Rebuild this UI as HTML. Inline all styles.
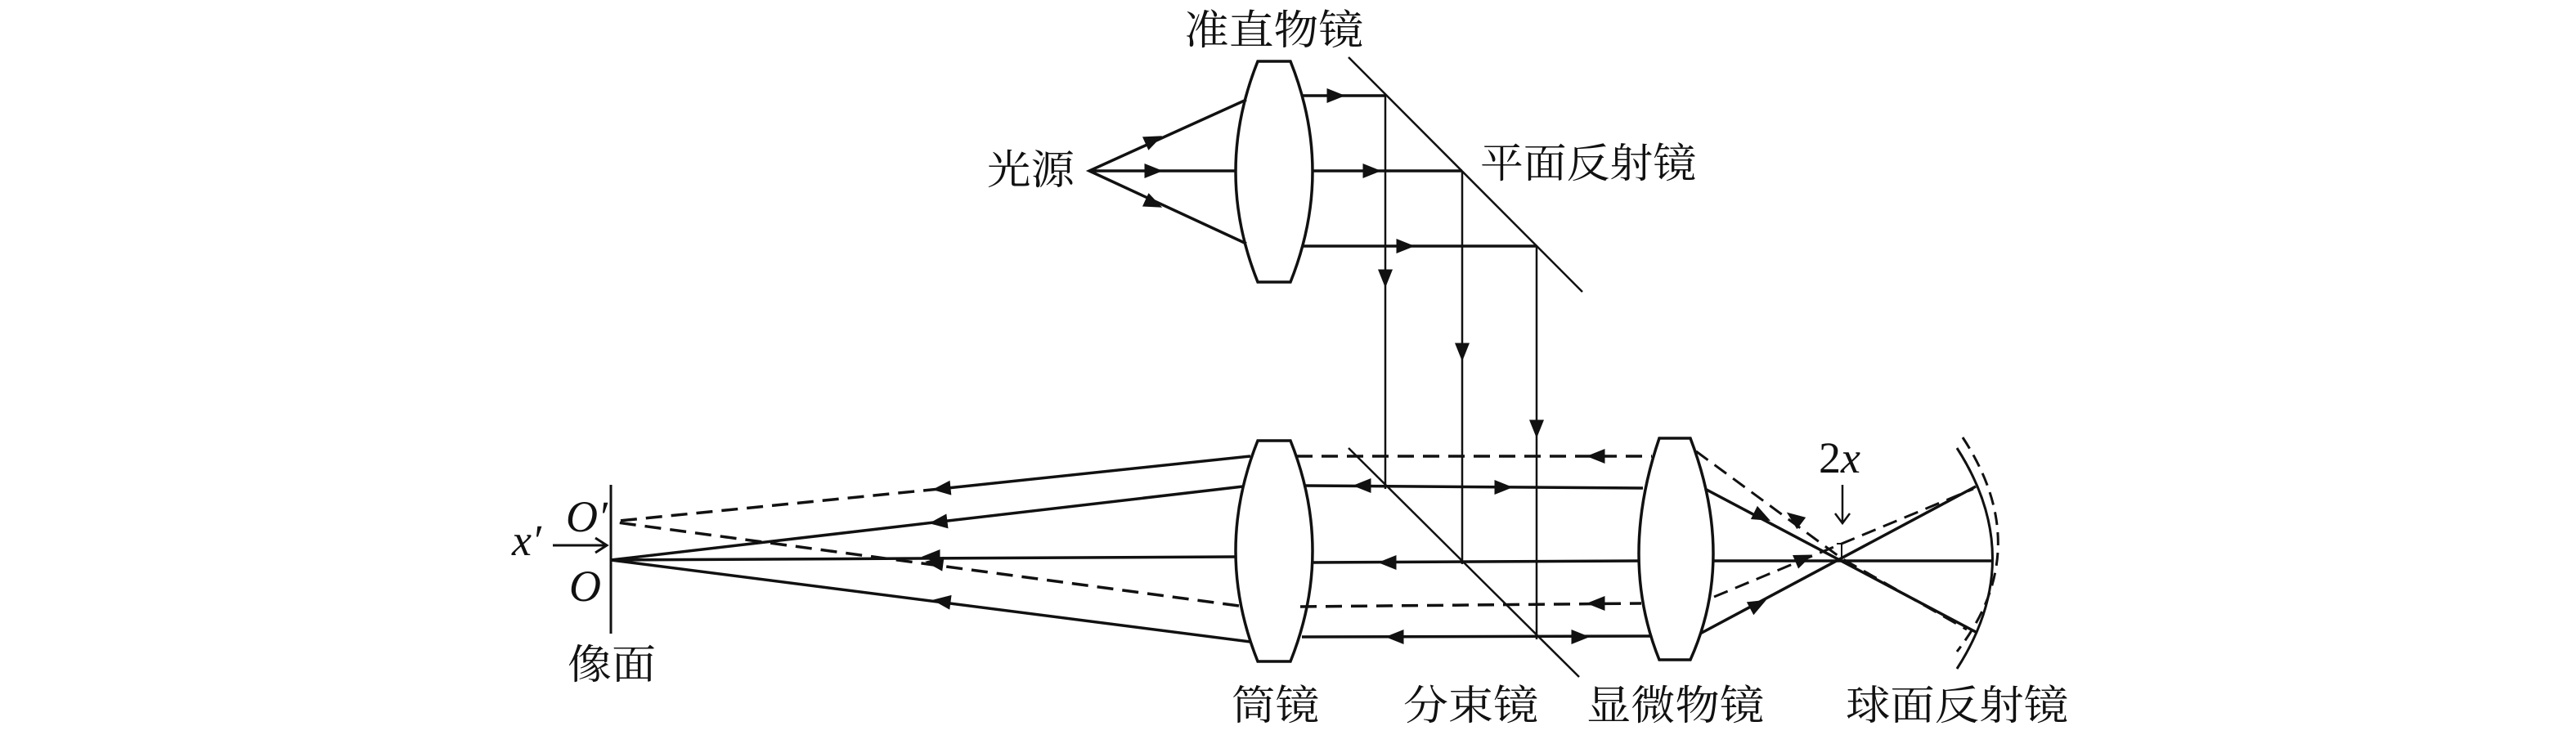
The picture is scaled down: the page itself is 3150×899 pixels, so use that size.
<!DOCTYPE html>
<html><head><meta charset="utf-8"><style>
html,body{margin:0;padding:0;background:#fff;}
svg{display:block;}
text{font-family:"Liberation Serif","Noto Serif CJK SC",serif;fill:#111;}
</style></head><body>
<svg width="3150" height="899" viewBox="0 0 3150 899" xmlns="http://www.w3.org/2000/svg">
<defs>
<marker id="a" viewBox="0 0 10 8" refX="6" refY="4" markerWidth="24" markerHeight="18" markerUnits="userSpaceOnUse" orient="auto">
<path d="M0,0 L10,4 L0,8 z" fill="#111"/></marker>
</defs>
<g stroke="#111" fill="none" stroke-width="3.5">
<path d="M1538,75 L1578,75 Q1632,210 1578,345 L1538,345 Q1484,210 1538,75 Z" fill="#fff"/>
<path d="M1538,539 L1578,539 Q1632,674 1578,809 L1538,809 Q1484,674 1538,539 Z" fill="#fff"/>
<path d="M2029,536 L2067,536 Q2123,683 2067,807 L2029,807 Q1979,683 2029,536 Z" fill="#fff"/>
<path d="M1524,122 L1332,209 L1524,298 M1332,209 L1511,209"/>
<path d="M1593,117 L1694,117 M1605,209 L1788,209 M1593,301 L1879,301"/>
</g>
<g stroke="#111" fill="none" stroke-width="2.5">
<path d="M1649,70 L1935,357"/>
<path d="M1694,117 L1694,598 M1788,209 L1788,690 M1879,301 L1879,782"/>
<path d="M1649,548 L1931,828"/>
<path d="M747,593 L747,775" stroke-width="3"/>
<path d="M2393,548 Q2480,683 2393,818" stroke-width="3"/>
<path d="M2400,535 Q2490,672 2393,797" stroke-dasharray="16,9" stroke-width="3"/>
<path d="M2253,593 L2253,638 M2244,628 L2253,640 L2262,628"/>
<path d="M2252,683 L2252,665 L2246,665" stroke-width="2"/>
<path d="M676,667 L740,667 M728,658 L742,667 L728,676" stroke-width="3"/>
</g>
<g stroke="#111" fill="none" stroke-width="3.5">
<path d="M1585,558 L2020,558" stroke-dasharray="20,11"/>
<path d="M1595,594 L2009,597"/>
<path d="M1605,688 L2004,686"/>
<path d="M1590,742 L2007,738" stroke-dasharray="20,11"/>
<path d="M1592,779 L2020,778"/>
<path d="M1529,558 L1149,598"/>
<path d="M1149,598 L747,638" stroke-dasharray="20,11"/>
<path d="M1520,595 L747,685"/>
<path d="M1511,681 L747,685"/>
<path d="M1515,741 L747,638" stroke-dasharray="20,11"/>
<path d="M1529,785 L747,685"/>
<path d="M2085,598 L2416,773"/>
<path d="M2079,775 L2416,595"/>
<path d="M2095,686 L2436,686"/>
<path d="M2074,552 L2252,683 L2405,770" stroke-dasharray="18,10" stroke-width="3"/>
<path d="M2096,730 L2413,598" stroke-dasharray="18,10" stroke-width="3"/>
</g>
<g stroke="none" fill="none">
<path d="M1403,174.5 L1413,170" marker-end="url(#a)"/>
<path d="M1403,209 L1413,209" marker-end="url(#a)"/>
<path d="M1403,245.4 L1413,250" marker-end="url(#a)"/>
<path d="M1626,117 L1636,117" marker-end="url(#a)"/>
<path d="M1670,209 L1680,209" marker-end="url(#a)"/>
<path d="M1711,301 L1721,301" marker-end="url(#a)"/>
<path d="M1694,333 L1694,343" marker-end="url(#a)"/>
<path d="M1788,423 L1788,433" marker-end="url(#a)"/>
<path d="M1879,517 L1879,527" marker-end="url(#a)"/>
<path d="M1959,558 L1949,558" marker-end="url(#a)"/>
<path d="M1673,594 L1663,594" marker-end="url(#a)"/>
<path d="M1831,596 L1841,596" marker-end="url(#a)"/>
<path d="M1704,688 L1694,688" marker-end="url(#a)"/>
<path d="M1959,738 L1949,738" marker-end="url(#a)"/>
<path d="M1713,779 L1703,779" marker-end="url(#a)"/>
<path d="M1925,779 L1935,779" marker-end="url(#a)"/>
<path d="M1159,597 L1149,598" marker-end="url(#a)"/>
<path d="M1155,637.8 L1145,639" marker-end="url(#a)"/>
<path d="M1146,681 L1136,681" marker-end="url(#a)"/>
<path d="M1150,689.3 L1140,688" marker-end="url(#a)"/>
<path d="M1159,736.3 L1149,735" marker-end="url(#a)"/>
<path d="M2148,628.5 L2157,633" marker-end="url(#a)"/>
<path d="M2200,638 L2192,632" marker-end="url(#a)"/>
<path d="M2143,742.8 L2152,738" marker-end="url(#a)"/>
<path d="M2199,685.8 L2208,682" marker-end="url(#a)"/>
</g>
<g font-size="50">
<text x="1448" y="54" textLength="219" lengthAdjust="spacingAndGlyphs">准直物镜</text>
<text x="1207" y="225" textLength="107" lengthAdjust="spacingAndGlyphs">光源</text>
<text x="1810" y="217" textLength="264" lengthAdjust="spacingAndGlyphs">平面反射镜</text>
<text x="694" y="830" textLength="108" lengthAdjust="spacingAndGlyphs">像面</text>
<text x="1506" y="880" textLength="107" lengthAdjust="spacingAndGlyphs">筒镜</text>
<text x="1716" y="880" textLength="165" lengthAdjust="spacingAndGlyphs">分束镜</text>
<text x="1940" y="880" textLength="217" lengthAdjust="spacingAndGlyphs">显微物镜</text>
<text x="2257" y="880" textLength="272" lengthAdjust="spacingAndGlyphs">球面反射镜</text>
</g>
<g font-size="54" font-style="italic">
<text x="692" y="650">O′</text>
<text x="626" y="679">x′</text>
<text x="696" y="735">O</text>
</g>
<text x="2224" y="578" font-size="54">2<tspan font-style="italic">x</tspan></text>
</svg>
</body></html>
